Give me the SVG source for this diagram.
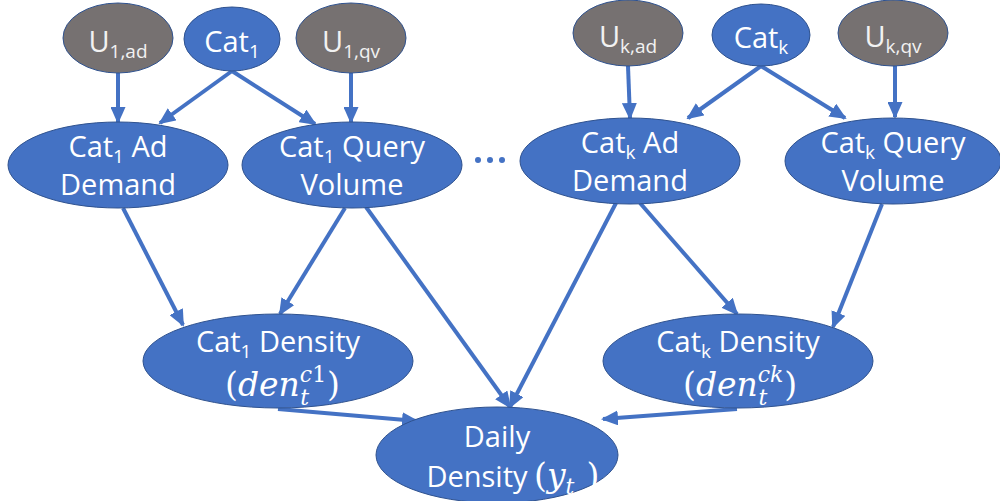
<svg xmlns="http://www.w3.org/2000/svg" width="1000" height="501" viewBox="0 0 1000 501">
  <style>
    .blue { fill: #4472C4; stroke: #2F528F; stroke-width: 1; }
    .grey { fill: #767171; stroke: #2F528F; stroke-width: 1; }
    .lbl { font-family: "Open Sans", "Noto Sans", sans-serif; font-size: 29px; fill: #FFFFFF; text-anchor: middle; }
    .glbl { fill: #F2F2F2; }
    .sub { font-size: 19px; }
    .math { font-family: "DejaVu Serif", "Liberation Serif", serif; font-style: italic; font-size: 33px; fill: #FFFFFF; }
    .msm { font-size: 22px; }
    .mup { font-style: normal; }
    .edge { stroke: #4472C4; stroke-width: 4; fill: none; marker-end: url(#head); }
  </style>
  <defs>
    <marker id="head" markerUnits="userSpaceOnUse" markerWidth="17" markerHeight="15" refX="15" refY="7.5" orient="auto">
      <path d="M0,0 L17,7.5 L0,15 Z" fill="#4472C4"/>
    </marker>
  </defs>

  <g id="connectors">
    <line class="edge" x1="118" y1="73" x2="118" y2="122"/>
    <line class="edge" x1="232" y1="71" x2="160" y2="123"/>
    <line class="edge" x1="232" y1="71" x2="315" y2="124"/>
    <line class="edge" x1="351" y1="73" x2="351" y2="122"/>
    <line class="edge" x1="628" y1="66" x2="630" y2="118"/>
    <line class="edge" x1="761" y1="66" x2="688" y2="118"/>
    <line class="edge" x1="761" y1="66" x2="845" y2="118"/>
    <line class="edge" x1="895" y1="66" x2="895" y2="117"/>
    <line class="edge" x1="123" y1="208" x2="183" y2="325"/>
    <line class="edge" x1="345" y1="208" x2="280" y2="314"/>
    <line class="edge" x1="366" y1="207" x2="510" y2="407"/>
    <line class="edge" x1="616" y1="203" x2="510" y2="407"/>
    <line class="edge" x1="640" y1="203" x2="737" y2="314"/>
    <line class="edge" x1="882" y1="204" x2="833" y2="327"/>
    <line class="edge" x1="278" y1="409" x2="417" y2="421"/>
    <line class="edge" x1="737" y1="409" x2="603" y2="419"/>
  </g>

  <g id="u1ad">
    <ellipse class="grey" cx="118" cy="38" rx="55" ry="35"/>
    <text class="lbl glbl" x="118" y="52">U<tspan class="sub" dy="6">1,ad</tspan></text>
  </g>
  <g id="cat1">
    <ellipse class="blue" cx="232" cy="39" rx="48" ry="32"/>
    <text class="lbl" x="232" y="52">Cat<tspan class="sub" dy="6">1</tspan></text>
  </g>
  <g id="u1qv">
    <ellipse class="grey" cx="351" cy="38" rx="55" ry="35"/>
    <text class="lbl glbl" x="351" y="52">U<tspan class="sub" dy="6">1,qv</tspan></text>
  </g>
  <g id="cat1-ad-demand">
    <ellipse class="blue" cx="118" cy="165" rx="110" ry="43"/>
    <text class="lbl" x="118" y="157">Cat<tspan class="sub" dy="6">1</tspan><tspan dy="-6"> Ad</tspan></text>
    <text class="lbl" x="118" y="195">Demand</text>
  </g>
  <g id="cat1-query-volume">
    <ellipse class="blue" cx="352" cy="165" rx="110" ry="43"/>
    <text class="lbl" x="352" y="157">Cat<tspan class="sub" dy="6">1</tspan><tspan dy="-6"> Query</tspan></text>
    <text class="lbl" x="352" y="195">Volume</text>
  </g>

  <g id="ellipsis" fill="#4472C4">
    <circle cx="478" cy="160" r="3"/>
    <circle cx="490" cy="160" r="3"/>
    <circle cx="502" cy="160" r="3"/>
  </g>

  <g id="ukad">
    <ellipse class="grey" cx="628" cy="33" rx="55" ry="33"/>
    <text class="lbl glbl" x="628" y="47">U<tspan class="sub" dy="6">k,ad</tspan></text>
  </g>
  <g id="catk">
    <ellipse class="blue" cx="761" cy="35" rx="49" ry="31"/>
    <text class="lbl" x="761" y="48">Cat<tspan class="sub" dy="6">k</tspan></text>
  </g>
  <g id="ukqv">
    <ellipse class="grey" cx="893" cy="33" rx="55" ry="33"/>
    <text class="lbl glbl" x="893" y="47">U<tspan class="sub" dy="6">k,qv</tspan></text>
  </g>
  <g id="catk-ad-demand">
    <ellipse class="blue" cx="630" cy="161" rx="110" ry="43"/>
    <text class="lbl" x="630" y="153">Cat<tspan class="sub" dy="6">k</tspan><tspan dy="-6"> Ad</tspan></text>
    <text class="lbl" x="630" y="191">Demand</text>
  </g>
  <g id="catk-query-volume">
    <ellipse class="blue" cx="893" cy="161" rx="108" ry="43"/>
    <text class="lbl" x="893" y="153">Cat<tspan class="sub" dy="6">k</tspan><tspan dy="-6"> Query</tspan></text>
    <text class="lbl" x="893" y="191">Volume</text>
  </g>

  <g id="cat1-density">
    <ellipse class="blue" cx="278" cy="361" rx="135" ry="47"/>
    <text class="lbl" x="278" y="352">Cat<tspan class="sub" dy="6">1</tspan><tspan dy="-6"> Density</tspan></text>
    <text class="math" x="225" y="396"><tspan class="mup">(</tspan>den<tspan class="msm" dy="-14">c</tspan><tspan class="msm mup">1</tspan><tspan class="msm" dx="-26" dy="23">t</tspan><tspan class="mup" dx="18" dy="-9">)</tspan></text>
  </g>
  <g id="catk-density">
    <ellipse class="blue" cx="738" cy="361" rx="135" ry="47"/>
    <text class="math" x="683" y="396"><tspan class="mup">(</tspan>den<tspan class="msm" dy="-14">ck</tspan><tspan class="msm" dx="-25" dy="23">t</tspan><tspan class="mup" dx="17" dy="-9">)</tspan></text>
    <text class="lbl" x="738" y="352">Cat<tspan class="sub" dy="6">k</tspan><tspan dy="-6"> Density</tspan></text>
  </g>
  <g id="daily-density">
    <ellipse class="blue" cx="497" cy="455" rx="121" ry="48"/>
    <text class="lbl" x="497" y="447">Daily</text>
    <text class="lbl" x="477" y="487">Density</text>
    <text class="math" x="534" y="487"><tspan class="mup">(</tspan>y<tspan class="msm" dy="7">t</tspan><tspan class="mup" dx="12" dy="-7">)</tspan></text>
  </g>
</svg>
